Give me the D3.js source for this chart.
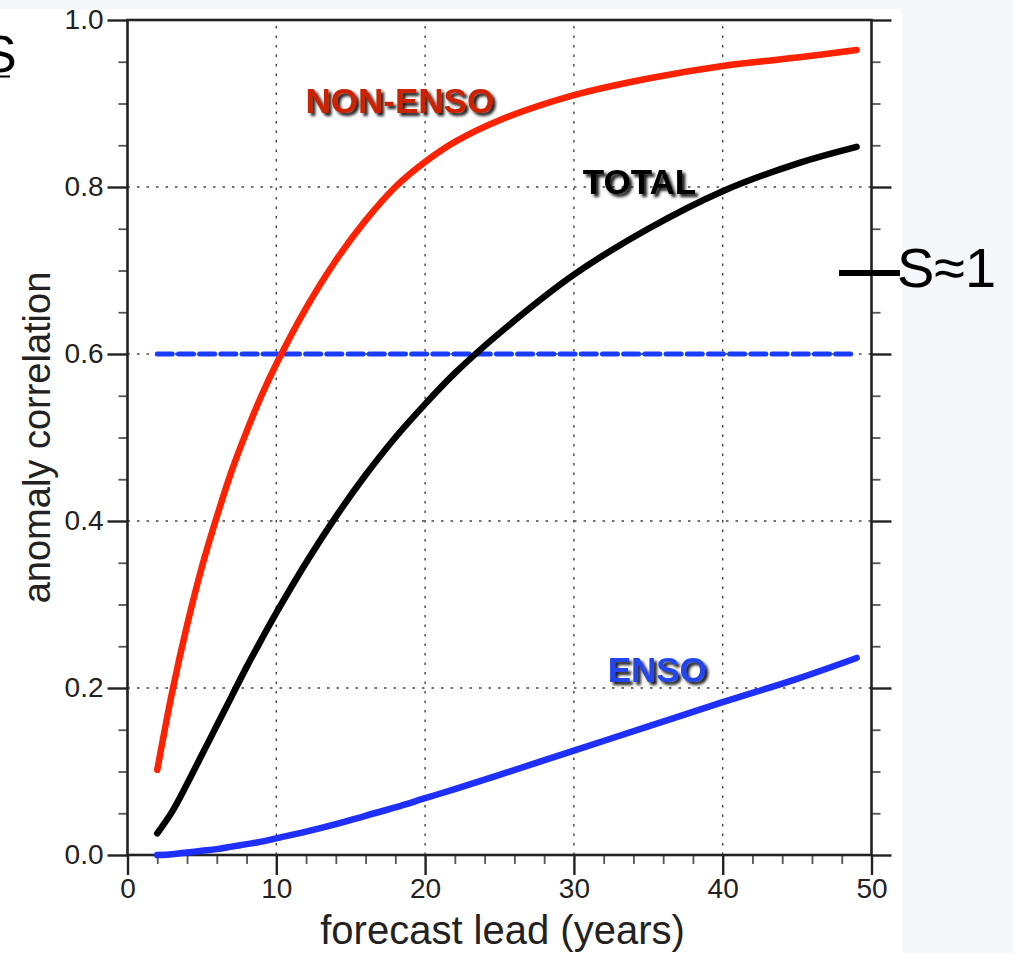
<!DOCTYPE html>
<html><head><meta charset="utf-8">
<script src="https://cdn.jsdelivr.net/npm/d3@7"></script>
<style>
html,body{margin:0;padding:0;background:#f4f8fa;}
svg{display:block;}
text{font-family:"Liberation Sans",Arial,sans-serif;}
</style></head>
<body>
<svg id="c" width="1013" height="953"></svg>
<script>
// data
const leads    = [2,3,4,5,6,7,8,9,10,12,14,16,18,20,22,25,30,35,40,45,49];
const nonEnso  = [0.102,0.195,0.275,0.345,0.405,0.460,0.507,0.550,0.588,0.655,0.712,0.760,0.800,0.830,0.854,0.880,0.910,0.930,0.945,0.955,0.964];
const total    = [0.026,0.052,0.085,0.120,0.155,0.190,0.225,0.258,0.290,0.350,0.405,0.455,0.500,0.540,0.577,0.625,0.695,0.750,0.795,0.828,0.848];
const enso     = [0.000,0.001,0.003,0.005,0.007,0.010,0.013,0.016,0.020,0.028,0.037,0.047,0.057,0.068,0.079,0.096,0.125,0.154,0.183,0.211,0.236];
const threshold = 0.6;
const xTicks = [0,10,20,30,40,50];
const xMinor = [2,4,6,8,12,14,16,18,22,24,26,28,32,34,36,38,42,44,46,48];
const yTicks = [0.0,0.2,0.4,0.6,0.8,1.0];
const yMinor = [0.05,0.1,0.15,0.25,0.3,0.35,0.45,0.5,0.55,0.65,0.7,0.75,0.85,0.9,0.95];
const seriesLabels = [
  {name:"NON-ENSO", x:18.3, y:0.889, fill:"#cc2200"},
  {name:"TOTAL", x:34.4, y:0.792, fill:"#000000"},
  {name:"ENSO", x:35.6, y:0.207, fill:"#2244ee"}
];

const svg = d3.select("#c");
const W=1013,H=953;
svg.append("rect").attr("x",0).attr("y",9).attr("width",902).attr("height",H-9).attr("fill","#ffffff");

const x = d3.scaleLinear().domain([0,50]).range([127.5,871.5]);
const y = d3.scaleLinear().domain([0,1]).range([855,20]);

const defs = svg.append("defs");
const f = defs.append("filter").attr("id","sh").attr("x","-20%").attr("y","-40%").attr("width","140%").attr("height","180%");
f.append("feGaussianBlur").attr("in","SourceAlpha").attr("stdDeviation",1.6).attr("result","b");
f.append("feOffset").attr("in","b").attr("dx",2.5).attr("dy",2.5).attr("result","o");
f.append("feComponentTransfer").attr("in","o").attr("result","o2").append("feFuncA").attr("type","linear").attr("slope",0.9);
const m = f.append("feMerge"); m.append("feMergeNode").attr("in","o2"); m.append("feMergeNode").attr("in","SourceGraphic");

// grid
const g = svg.append("g");
g.selectAll(".gx").data(xTicks.slice(1,-1)).join("line")
  .attr("x1",d=>x(d)).attr("x2",d=>x(d)).attr("y1",y(0)).attr("y2",y(1))
  .attr("stroke","#444").attr("stroke-width",1.4).attr("stroke-dasharray","2.5,7");
g.selectAll(".gy").data(yTicks.slice(1,-1)).join("line")
  .attr("x1",x(0)).attr("x2",x(50)).attr("y1",d=>y(d)).attr("y2",d=>y(d))
  .attr("stroke","#444").attr("stroke-width",1.4).attr("stroke-dasharray","2.5,7");

// axes
const axL = d3.axisLeft(y).tickValues(yTicks).tickSize(20).tickPadding(4).tickFormat(d3.format(".1f"));
const axR = d3.axisRight(y).tickValues(yTicks).tickSize(20).tickFormat("");
const axLm = d3.axisLeft(y).tickValues(yMinor).tickSize(9).tickFormat("");
const axRm = d3.axisRight(y).tickValues(yMinor).tickSize(9).tickFormat("");
const axB = d3.axisBottom(x).tickValues(xTicks).tickSize(20).tickPadding(3).tickFormat(d3.format("d"));
const axBm = d3.axisBottom(x).tickValues(xMinor).tickSize(9).tickFormat("");

function style(sel, fs, minor){
  sel.select(".domain").remove();
  sel.selectAll("line").attr("stroke",minor?"#555":"#222").attr("stroke-width",minor?1.8:2.4);
  sel.selectAll("text").attr("font-size",fs).attr("fill","#222").attr("font-family","Liberation Sans, Arial, sans-serif");
}
style(svg.append("g").attr("transform",`translate(${x(0)},0)`).call(axL),"28px",false);
style(svg.append("g").attr("transform",`translate(${x(50)},0)`).call(axR),"28px",false);
style(svg.append("g").attr("transform",`translate(${x(0)},0)`).call(axLm),"28px",true);
style(svg.append("g").attr("transform",`translate(${x(50)},0)`).call(axRm),"28px",true);
style(svg.append("g").attr("transform",`translate(0,${y(0)})`).call(axB),"28px",false);
style(svg.append("g").attr("transform",`translate(0,${y(0)})`).call(axBm),"28px",true);

// frame
svg.append("rect").attr("x",x(0)).attr("y",y(1)).attr("width",x(50)-x(0)).attr("height",y(0)-y(1))
  .attr("fill","none").attr("stroke","#222").attr("stroke-width",2.6);

// threshold
svg.append("line").attr("x1",x(2)).attr("x2",x(49)).attr("y1",y(threshold)).attr("y2",y(threshold))
  .attr("stroke","#1a3cff").attr("stroke-width",5).attr("stroke-dasharray","15,6.2").attr("stroke-linecap","round");

// curves
const line = d3.line().x(d=>x(d[0])).y(d=>y(d[1])).curve(d3.curveCatmullRom.alpha(0.5));
[[nonEnso,"#ff2200"],[total,"#000000"],[enso,"#1f2fff"]].forEach(([vals,c])=>{
  svg.append("path").attr("d",line(leads.map((l,i)=>[l,vals[i]])))
    .attr("fill","none").attr("stroke",c).attr("stroke-width",6.5).attr("stroke-linecap","round");
});

// series labels
svg.selectAll(".sl").data(seriesLabels).join("text")
  .attr("x",d=>x(d.x)).attr("y",d=>y(d.y)).attr("text-anchor","middle")
  .attr("font-size","35px").attr("font-weight","bold").attr("fill",d=>d.fill)
  .attr("filter","url(#sh)").text(d=>d.name);

// axis titles
svg.append("text").attr("x",(x(0)+x(50))/2+3).attr("y",944).attr("text-anchor","middle")
  .attr("font-size","40px").attr("fill","#222").text("forecast lead (years)");
svg.append("text").attr("transform",`translate(50,${(y(0)+y(1))/2}) rotate(-90)`).attr("text-anchor","middle")
  .attr("font-size","38px").attr("fill","#222").text("anomaly correlation");

// S≈1 annotation
svg.append("line").attr("x1",839).attr("x2",900).attr("y1",273).attr("y2",273).attr("stroke","#000").attr("stroke-width",6);
svg.append("text").attr("x",897).attr("y",287).attr("font-size","56px").attr("fill","#000").text("S≈1");

// clipped S at left edge
svg.append("text").attr("x",-18).attr("y",72).attr("font-size","52px").attr("font-family","Liberation Serif, Times New Roman, serif").attr("fill","#000").text("S");
svg.append("line").attr("x1",0).attr("x2",10).attr("y1",76.5).attr("y2",76.5).attr("stroke","#000").attr("stroke-width",2);
</script>
</body></html>
